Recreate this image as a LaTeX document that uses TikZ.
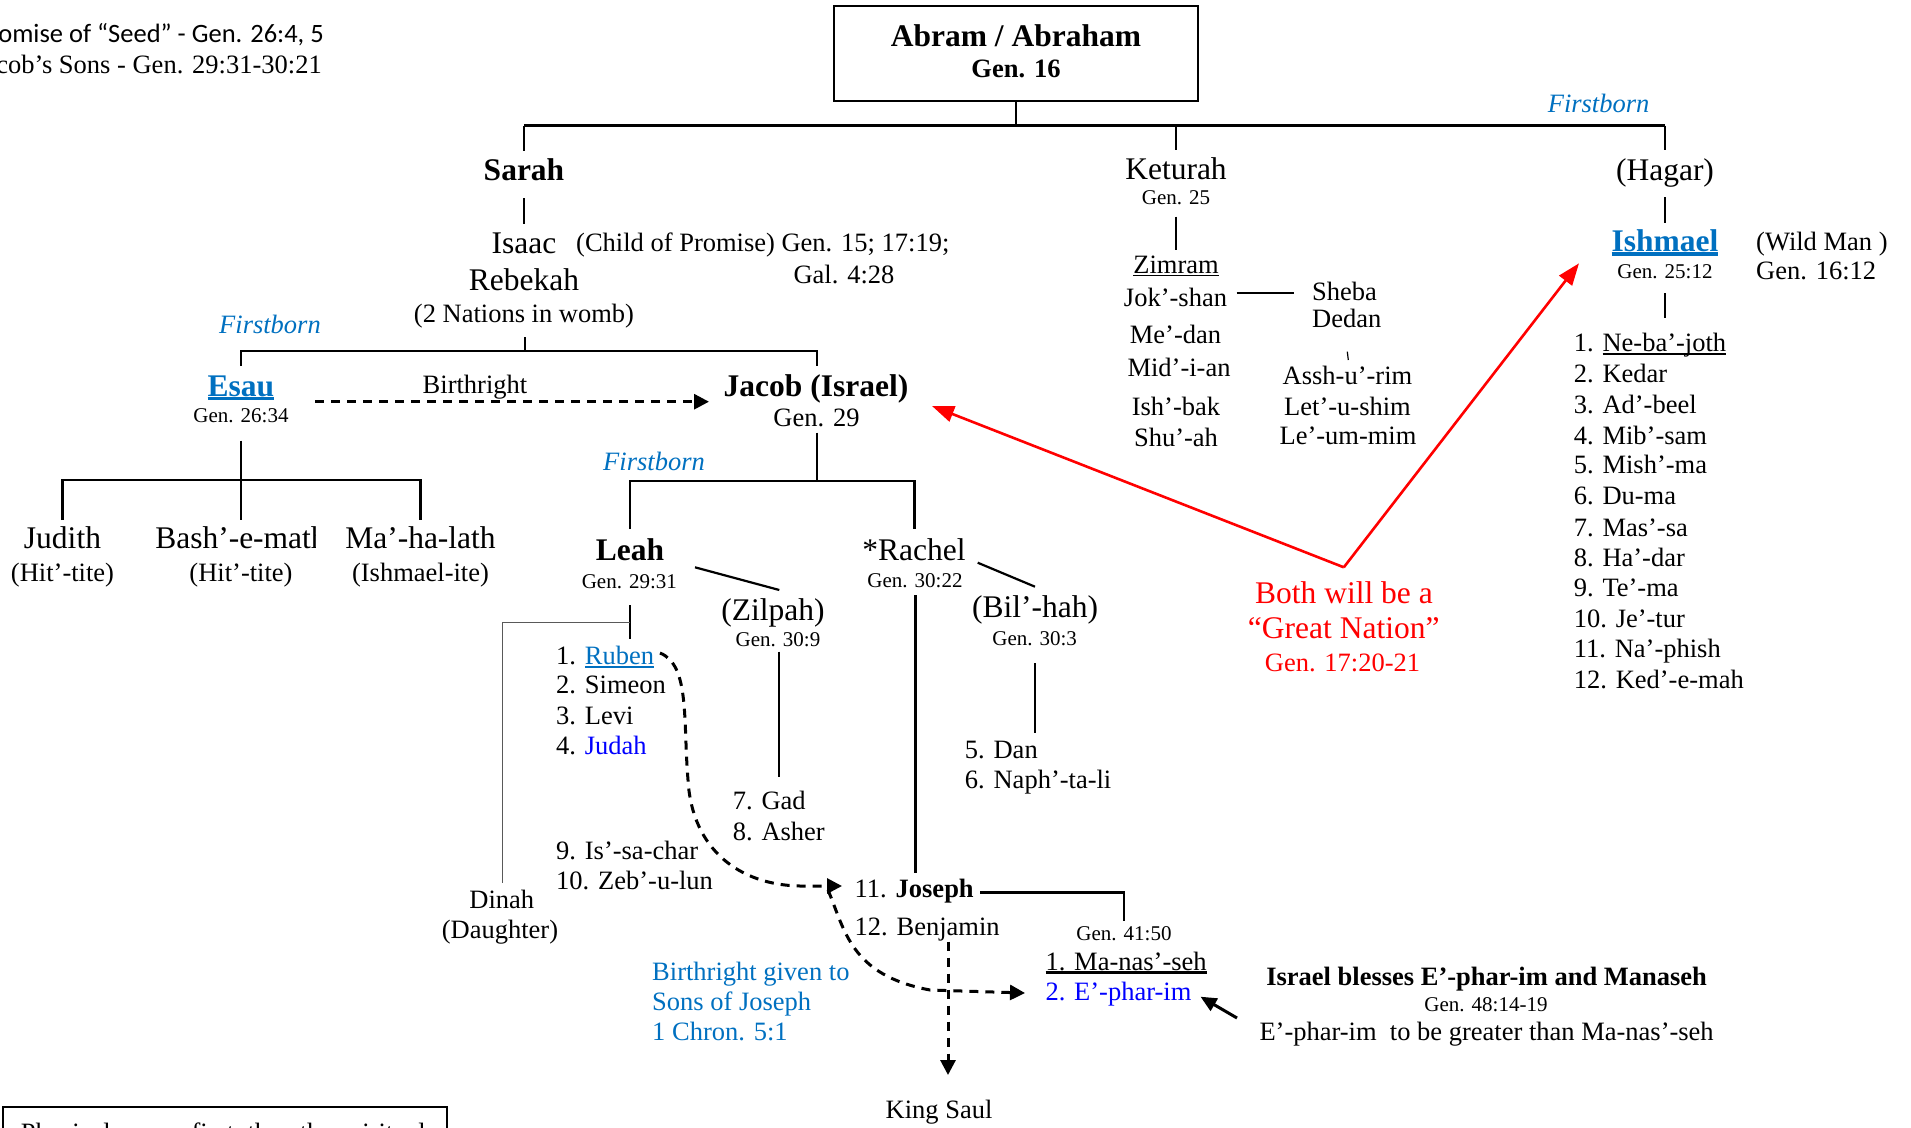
\documentclass[tikz,border=0pt]{standalone}
\usepackage{fontspec}
\setmainfont{Liberation Serif}
\newfontfamily\calib{Carlito}
\usetikzlibrary{arrows.meta}
\definecolor{lb}{HTML}{0070C0}
\definecolor{pb}{HTML}{0000FF}
\definecolor{rd}{HTML}{FF0000}
\newcommand\fL{\fontsize{31.5}{36}\selectfont}
\newcommand\fM{\fontsize{26.5}{30}\selectfont}
\newcommand\fS{\fontsize{21}{25}\selectfont}
\newcommand\ulc[3]{\setbox0=\hbox{#3}\rlap{\rule[-#1]{\wd0}{#2}}\box0}
\begin{document}
\begin{tikzpicture}[x=1pt,y=-1pt,
  t/.style={inner sep=0pt,anchor=base},
  tl/.style={inner sep=0pt,anchor=base west},
  tr/.style={inner sep=0pt,anchor=base east},
  ln/.style={line width=2.4pt},
  thinln/.style={line width=1.3pt,black!65},
  dsh/.style={line width=3pt,dash pattern=on 9pt off 7pt,-{Triangle[length=15pt,width=15pt]}},
  redarrow/.style={line width=2.6pt,rd,-{Triangle[length=22pt,width=16pt]}},
  fb/.style={t,font=\fM\itshape,text=lb}]
\useasboundingbox (0,0) rectangle (1911,1127);
\clip (0,0) rectangle (1911,1127);

% top-left notes
\node[tr,font=\calib\fM] (note1) at (324,42) {Promise of “Seed” - Gen. 26:4, 5};
\node[tr,font=\fM] (note2) at (322,73) {Jacob’s Sons - Gen. 29:31-30:21};

% Abram
\node[draw,line width=2pt,minimum width=364pt,minimum height=95.5pt,inner sep=0pt] (abram) at (1016,53.7) {};
\node[t,font=\fL\bfseries] (abramT) at (1016,46) {Abram / Abraham};
\node[t,font=\fM\bfseries] (abramG) at (1016,77.3) {Gen. 16};
\coordinate (bar) at (1016,125.5);
\coordinate (barL) at (524,125.5);
\coordinate (barR) at (1665,125.5);
\coordinate (ketTop) at (1176,125.5);
\draw[ln] (abram.south) -- (bar);
\draw[ln] (barL) -- (barR);
\node[fb] (fb3) at (1598.6,112) {Firstborn};

% Sarah line
\coordinate (sarahTop) at (524,151);
\draw[ln] (barL) -- (sarahTop);
\node[t,font=\fL\bfseries] (sarah) at (524,180) {Sarah};
\coordinate (sarahA) at (524,198);
\coordinate (sarahB) at (524,224);
\draw[ln] (sarahA) -- (sarahB);
\node[t,font=\fL] (isaac) at (524,253) {Isaac};
\node[tl,font=\fM] (child) at (576,251.5) {(Child of Promise) Gen. 15; 17:19;};
\node[t,font=\fM] (gal) at (844,283) {Gal. 4:28};
\node[t,font=\fL] (rebekah) at (524,290) {Rebekah};
\node[t,font=\fM] (nations) at (524,322) {(2 Nations in womb)};
\coordinate (rebA) at (525,337);
\coordinate (rebB) at (525,351);
\coordinate (ejL) at (241,351);
\coordinate (ejR) at (817,351);
\coordinate (esauTop) at (241,366);
\coordinate (jacobTop) at (817,366);
\draw[ln] (rebA) -- (rebB);
\draw[ln] (esauTop) -- (ejL) -- (ejR) -- (jacobTop);
\node[fb] (fb1) at (270,333) {Firstborn};

% Esau
\node[t,font=\fL\bfseries,text=lb] (esau) at (241,396) {\ulc{4pt}{3pt}{Esau}};
\node[t,font=\fS] (esauG) at (241,422.7) {Gen. 26:34};
\node[t,font=\fM] (birthL) at (475,393) {Birthright};
\coordinate (birthA) at (315,401.7);
\coordinate (birthB) at (709,401.7);
\draw[dsh] (birthA) -- (birthB);

\coordinate (esauA) at (241,440.7);
\coordinate (esauB) at (241,480);
\coordinate (wL) at (62.5,480);
\coordinate (wR) at (420.5,480);
\coordinate (w1) at (62.5,520);
\coordinate (w2) at (241,520);
\coordinate (w3) at (420.5,520);
\draw[ln] (esauA) -- (esauB);
\draw[ln] (w1) -- (wL) -- (wR) -- (w3);
\draw[ln] (esauB) -- (w2);
\node[t,font=\fL] (judith) at (62.5,548) {Judith};
\node[t,font=\fM] (hit1) at (62.5,581.7) {(Hit’-tite)};
\begin{scope}
\clip (140,500) rectangle (315,565);
\node[t,font=\fL] (bash) at (241,548) {Bash’-e-math};
\end{scope}
\node[t,font=\fM] (hit2) at (241,581.7) {(Hit’-tite)};
\node[t,font=\fL] (mahalath) at (420.5,548) {Ma’-ha-lath};
\node[t,font=\fM] (ishite) at (420.5,581.7) {(Ishmael-ite)};

% Jacob
\node[t,font=\fL\bfseries] (jacob) at (816,396) {Jacob (Israel)};
\node[t,font=\fM] (jacobG) at (816.5,426.7) {Gen. 29};
\coordinate (jacA) at (817,432.7);
\coordinate (jacB) at (817,480.7);
\coordinate (lrL) at (630,480.7);
\coordinate (lrR) at (914.6,480.7);
\coordinate (leahTop) at (630,529);
\coordinate (rachelTop) at (914.6,529);
\draw[ln] (jacA) -- (jacB);
\draw[ln] (leahTop) -- (lrL) -- (lrR) -- (rachelTop);
\node[fb] (fb2) at (654,470) {Firstborn};

% Leah
\node[t,font=\fL\bfseries] (leah) at (630,560) {Leah};
\node[t,font=\fS] (leahG) at (629.3,588.3) {Gen. 29:31};
\coordinate (lzA) at (695,567.3);
\coordinate (lzB) at (779.3,590);
\draw[line width=2.2pt] (lzA) -- (lzB);
\node[t,font=\fL] (zilpah) at (773,620) {(Zilpah)};
\node[t,font=\fS] (zilpahG) at (778,646) {Gen. 30:9};
\coordinate (zilA) at (779,651.7);
\coordinate (zilB) at (779,776.7);
\draw[ln] (zilA) -- (zilB);
\coordinate (leahA) at (630,605);
\coordinate (leahB) at (630,639.3);
\coordinate (leahJ) at (630,622.7);
\coordinate (dinahC) at (502.7,622.7);
\coordinate (dinahB) at (502.7,883);
\draw[line width=2pt] (leahA) -- (leahB);
\draw[thinln] (leahJ) -- (dinahC) -- (dinahB);
\node[t,font=\fM] (dinah) at (501.8,908) {Dinah};
\node[t,font=\fM] (daughter) at (500,938) {(Daughter)};

\node[tl,font=\fM] (s1) at (556,664) {1. \textcolor{lb}{\ulc{3.5pt}{1.6pt}{Ruben}}};
\node[tl,font=\fM] (s2) at (556,693.5) {2. Simeon};
\node[tl,font=\fM] (s3) at (556,724) {3. Levi};
\node[tl,font=\fM] (s4) at (556,754) {4. \textcolor{pb}{Judah}};
\node[tl,font=\fM] (s9) at (556,859) {9. Is’-sa-char};
\node[tl,font=\fM] (s10) at (556,889) {10. Zeb’-u-lun};
\node[tl,font=\fM] (s7) at (732.6,809.3) {7. Gad};
\node[tl,font=\fM] (s8) at (732.6,840) {8. Asher};

% Rachel
\node[t,font=\fL] (rachel) at (914,560) {*Rachel};
\node[t,font=\fS] (rachelG) at (915,587.3) {Gen. 30:22};
\coordinate (rbA) at (977.7,562.7);
\coordinate (rbB) at (1035,586.7);
\draw[line width=2.2pt] (rbA) -- (rbB);
\node[t,font=\fL] (bilhah) at (1035,617.3) {(Bil’-hah)};
\node[t,font=\fS] (bilhahG) at (1034.7,645) {Gen. 30:3};
\coordinate (bilA) at (1034.8,663);
\coordinate (bilB) at (1034.8,733);
\draw[ln] (bilA) -- (bilB);
\node[tl,font=\fM] (s5) at (964.7,758) {5. Dan};
\node[tl,font=\fM] (s6) at (964.7,788) {6. Naph’-ta-li};
\coordinate (racA) at (915.6,595);
\coordinate (racB) at (915.6,872.7);
\draw[ln] (racA) -- (racB);

% Joseph
\node[tl,font=\fM] (s11) at (854.5,897.3) {11. \textbf{Joseph}};
\node[tl,font=\fM] (s12) at (854.5,935) {12. Benjamin};
\coordinate (josA) at (980,892.3);
\coordinate (josB) at (1123.8,892.3);
\coordinate (josC) at (1123.8,921);
\draw[ln] (josA) -- (josB) -- (josC);
\node[t,font=\fS] (g4150) at (1124,940.7) {Gen. 41:50};
\node[tl,font=\fM] (manasseh) at (1045.3,970) {\ulc{3.5pt}{2.6pt}{1. Ma-nas’-seh}};
\node[tl,font=\fM,text=pb] (ephraim) at (1045.3,1000.7) {2. E’-phar-im};
\node[t,font=\fM\bfseries] (bless) at (1486.6,985) {Israel blesses E’-phar-im and Manaseh};
\node[t,font=\fS] (g4814) at (1486,1011.7) {Gen. 48:14-19};
\node[t,font=\fM] (greater) at (1486.6,1040) {E’-phar-im\ \ to be greater than Ma-nas’-seh};
\coordinate (blA) at (1237,1018);
\coordinate (blB) at (1200.5,996.7);
\draw[line width=3pt,-{Triangle[length=16pt,width=14pt]}] (blA) -- (blB);

% dashed birthright curves
\coordinate (rubA) at (660,653);
\coordinate (josArr) at (842,886);
\draw[dsh] (rubA) .. controls (690,665) and (683,720) .. (688,780)
  .. controls (692,850) and (740,885) .. (800,886) -- (josArr);
\coordinate (josD) at (828,890);
\coordinate (ephArr) at (1025,993);
\draw[dsh] (josD) .. controls (845,930) and (850,975) .. (930,990) -- (ephArr);
\coordinate (saulA) at (948,941.7);
\coordinate (saulB) at (948,1075);
\draw[dsh] (saulA) -- (saulB);
\node[t,font=\fM] (saul) at (939,1118.3) {King Saul};
\node[tl,font=\fM,text=lb] (bg1) at (652,980) {Birthright given to};
\node[tl,font=\fM,text=lb] (bg2) at (652,1010) {Sons of Joseph};
\node[tl,font=\fM,text=lb] (bg3) at (652,1040) {1 Chron. 5:1};

% Keturah
\coordinate (ketA) at (1176,150);
\draw[ln] (ketTop) -- (ketA);
\node[t,font=\fL] (keturah) at (1176,179.3) {Keturah};
\node[t,font=\fS] (keturahG) at (1176,204) {Gen. 25};
\coordinate (ketB) at (1176,216.7);
\coordinate (ketC) at (1176,250);
\draw[ln] (ketB) -- (ketC);
\node[t,font=\fM] (zimram) at (1176,273.3) {\ulc{3pt}{1.5pt}{Zimram}};
\node[t,font=\fM] (jokshan) at (1175.5,306.7) {Jok’-shan};
\node[t,font=\fM] (medan) at (1175.5,343.3) {Me’-dan};
\node[t,font=\fM] (midian) at (1179,376.7) {Mid’-i-an};
\node[t,font=\fM] (ishbak) at (1176,415) {Ish’-bak};
\node[t,font=\fM] (shuah) at (1176,446.7) {Shu’-ah};
\coordinate (jsA) at (1236.7,293.3);
\coordinate (jsB) at (1294,293.3);
\draw[line width=2.2pt] (jsA) -- (jsB);
\node[tl,font=\fM] (sheba) at (1312,300.7) {Sheba};
\node[tl,font=\fM] (dedan) at (1312,327) {Dedan};
\coordinate (tickA) at (1347.3,351.7);
\coordinate (tickB) at (1348.3,360);
\draw[line width=1.2pt] (tickA) -- (tickB);
\node[t,font=\fM] (asshurim) at (1347.5,384) {Assh-u’-rim};
\node[t,font=\fM] (letushim) at (1347.5,415) {Let’-u-shim};
\node[t,font=\fM] (leummim) at (1348,444.3) {Le’-um-mim};

% Hagar / Ishmael
\coordinate (hagA) at (1665,150);
\draw[ln] (barR) -- (hagA);
\node[t,font=\fL] (hagar) at (1665,180) {(Hagar)};
\coordinate (hagB) at (1665,197.3);
\coordinate (hagC) at (1665,222.7);
\draw[ln] (hagB) -- (hagC);
\node[t,font=\fL\bfseries,text=lb] (ishmael) at (1665,251.7) {\ulc{4pt}{3.5pt}{Ishmael}};
\node[t,font=\fS] (ishmaelG) at (1665,278.3) {Gen. 25:12};
\node[tl,font=\fM] (wild) at (1756,250) {(Wild Man )};
\node[tl,font=\fM] (g1612) at (1756,279.3) {Gen. 16:12};
\coordinate (ishA) at (1665,293.3);
\coordinate (ishB) at (1665,318.3);
\draw[ln] (ishA) -- (ishB);
\node[tl,font=\fM] (i1) at (1573.6,351.7) {1. \ulc{3pt}{1.6pt}{Ne-ba’-joth}};
\node[tl,font=\fM] (i2) at (1573.6,382.3) {2. Kedar};
\node[tl,font=\fM] (i3) at (1573.6,413.3) {3. Ad’-beel};
\node[tl,font=\fM] (i4) at (1573.6,444) {4. Mib’-sam};
\node[tl,font=\fM] (i5) at (1573.6,473.3) {5. Mish’-ma};
\node[tl,font=\fM] (i6) at (1573.6,504) {6. Du-ma};
\node[tl,font=\fM] (i7) at (1573.6,536) {7. Mas’-sa};
\node[tl,font=\fM] (i8) at (1573.6,566.7) {8. Ha’-dar};
\node[tl,font=\fM] (i9) at (1573.6,596.7) {9. Te’-ma};
\node[tl,font=\fM] (i10) at (1573.6,627.3) {10. Je’-tur};
\node[tl,font=\fM] (i11) at (1573.6,657.3) {11. Na’-phish};
\node[tl,font=\fM] (i12) at (1573.6,688.3) {12. Ked’-e-mah};

% Great nation
\coordinate (vtx) at (1343.8,567.3);
\coordinate (redJ) at (932,406);
\coordinate (redI) at (1579,263.3);
\draw[redarrow] (vtx) -- (redJ);
\draw[redarrow] (vtx) -- (redI);
\node[t,font=\fL,text=rd] (both) at (1344,603) {Both will be a};
\node[t,font=\fL,text=rd] (great) at (1343.7,638) {“Great Nation”};
\node[t,font=\fM,text=rd] (g1720) at (1342.5,671.7) {Gen. 17:20-21};

% bottom-left note box
\node[draw,line width=2.2pt,anchor=north west,minimum width=444pt,minimum height=80pt,inner sep=0pt] (notebox) at (1.5,1105.5) {};
\node[tl,font=\fM] (notetext) at (20.7,1141) {Physical comes first, then the spiritual};
\end{tikzpicture}
\end{document}
